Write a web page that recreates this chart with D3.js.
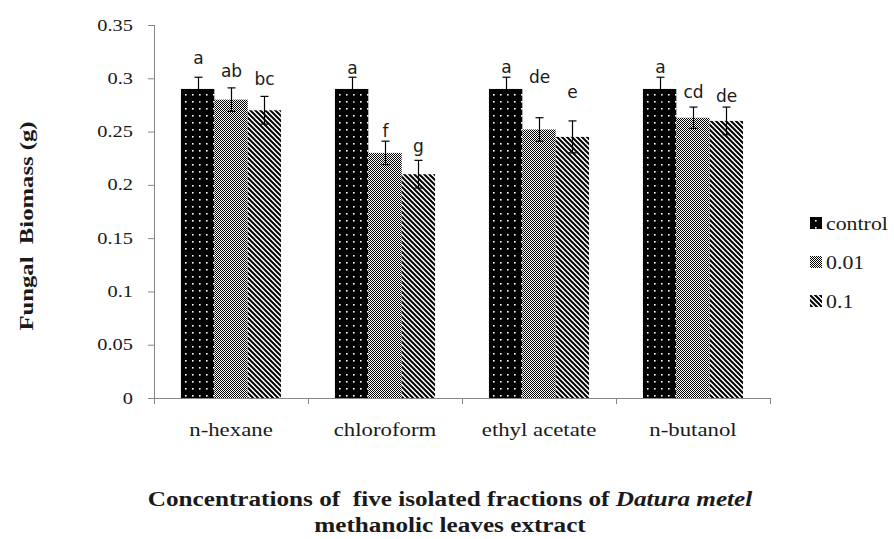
<!DOCTYPE html>
<html><head><meta charset="utf-8">
<script src="https://cdn.jsdelivr.net/npm/d3@7"></script>
<style>body{margin:0;background:#fff}svg{display:block}</style>
</head><body>
<svg id="chart" width="894" height="539"></svg>
<script>
// ---------- data ----------
const categories = ["n-hexane", "chloroform", "ethyl acetate", "n-butanol"];
const seriesNames = ["control", "0.01", "0.1"];
const controlValues = [0.29, 0.29, 0.29, 0.29];
const conc001Values = [0.28, 0.23, 0.252, 0.263];
const conc01Values  = [0.27, 0.21, 0.245, 0.26];
const controlErr = [0.011, 0.011, 0.011, 0.011];
const conc001Err = [0.011, 0.011, 0.011, 0.010];
const conc01Err  = [0.013, 0.013, 0.015, 0.013];
const controlLetters = ["a", "a", "a", "a"];
const conc001Letters = ["ab", "f", "de", "cd"];
const conc01Letters  = ["bc", "g", "e", "de"];
const controlLetterAt = [0.3134, 0.304, 0.3047, 0.3047];
const conc001LetterAt = [0.3015, 0.2446, 0.2953, 0.2812];
const conc01LetterAt  = [0.2937, 0.2311, 0.2812, 0.278];
const yTicks = [0, 0.05, 0.1, 0.15, 0.2, 0.25, 0.3, 0.35];
const yTickLabels = ["0", "0.05", "0.1", "0.15", "0.2", "0.25", "0.3", "0.35"];

const series = [
  {name: seriesNames[0], values: controlValues, err: controlErr, letters: controlLetters, at: controlLetterAt, fill: "url(#pDots)"},
  {name: seriesNames[1], values: conc001Values, err: conc001Err, letters: conc001Letters, at: conc001LetterAt, fill: "url(#pCheck)"},
  {name: seriesNames[2], values: conc01Values, err: conc01Err, letters: conc01Letters, at: conc01LetterAt, fill: "url(#pStripe)"}
];

// ---------- layout ----------
const svg = d3.select("#chart");
const pLeft = 154, pRight = 770, pTop = 25, pBottom = 398;
const axisColor = "#878787";
const serif = "'Liberation Serif','Times New Roman',serif";
const sx = 1.2;

const x0 = d3.scaleBand().domain(categories).range([pLeft, pRight]).paddingInner(0.35).paddingOuter(0.175);
const x1 = d3.scaleBand().domain(seriesNames).range([0, x0.bandwidth()]);
const y = d3.scaleLinear().domain([0, 0.35]).range([pBottom, pTop]);

// ---------- patterns ----------
const defs = svg.append("defs");
const pd = defs.append("pattern").attr("id", "pDots").attr("patternUnits", "userSpaceOnUse")
  .attr("width", 7).attr("height", 7);
pd.append("rect").attr("width", 7).attr("height", 7).attr("fill", "#000");
pd.append("rect").attr("x", 3).attr("y", 3).attr("width", 1.6).attr("height", 1.6).attr("fill", "#fff");

const pc = defs.append("pattern").attr("id", "pCheck").attr("patternUnits", "userSpaceOnUse")
  .attr("width", 2).attr("height", 2);
pc.append("rect").attr("width", 2).attr("height", 2).attr("fill", "#fff");
pc.append("rect").attr("width", 1).attr("height", 1).attr("fill", "#000");
pc.append("rect").attr("x", 1).attr("y", 1).attr("width", 1).attr("height", 1).attr("fill", "#000");

const ps = defs.append("pattern").attr("id", "pStripe").attr("patternUnits", "userSpaceOnUse")
  .attr("width", 5).attr("height", 5);
ps.append("rect").attr("width", 5).attr("height", 5).attr("fill", "#fff");
ps.append("path").attr("d", "M-1,-1L6,6M-1,4L1,6M4,-1L6,1")
  .attr("stroke", "#000").attr("stroke-width", 2);

// ---------- axes ----------
const yAxis = d3.axisLeft(y).tickValues(yTicks).tickSize(6).tickFormat(() => "");
const gy = svg.append("g").attr("transform", `translate(${pLeft},0)`).call(yAxis);
gy.select(".domain").attr("stroke", axisColor).attr("d", `M0.5,${pTop}V${pBottom}`);
gy.selectAll(".tick line").attr("stroke", axisColor);

yTicks.forEach((v, i) => {
  svg.append("text")
    .attr("transform", `translate(${pLeft - 21},${y(v) + 5.5}) scale(${sx},1)`)
    .attr("text-anchor", "end")
    .attr("font-family", serif).attr("font-size", 17).attr("fill", "#1a1a1a")
    .text(yTickLabels[i]);
});

const boundaries = [pLeft].concat(categories.slice(1).map(c => x0(c) - x0.step() * 0.175)).concat([pRight]);
svg.append("line").attr("x1", pLeft - 6).attr("x2", pRight).attr("y1", pBottom + 0.5).attr("y2", pBottom + 0.5)
  .attr("stroke", axisColor);
svg.selectAll(".xb").data(boundaries).enter().append("line")
  .attr("x1", d => Math.round(d) + 0.5).attr("x2", d => Math.round(d) + 0.5)
  .attr("y1", pBottom).attr("y2", pBottom + 6).attr("stroke", axisColor);

categories.forEach(c => {
  svg.append("text")
    .attr("transform", `translate(${x0(c) + x0.bandwidth() / 2},436) scale(${sx},1)`)
    .attr("text-anchor", "middle")
    .attr("font-family", serif).attr("font-size", 19).attr("fill", "#1a1a1a")
    .text(c);
});

// ---------- bars ----------
series.forEach(s => {
  const g = svg.append("g");
  categories.forEach((c, i) => {
    g.append("rect").attr("x", x0(c) + x1(s.name)).attr("y", y(s.values[i]))
      .attr("width", x1.bandwidth()).attr("height", pBottom - y(s.values[i])).attr("fill", s.fill);
  });
});
series.forEach(s => {
  categories.forEach((c, i) => {
    const cx = Math.round(x0(c) + x1(s.name) + x1.bandwidth() / 2) + 0.5;
    const hi = y(s.values[i] + s.err[i]), lo = y(s.values[i] - s.err[i]);
    svg.append("line").attr("x1", cx).attr("x2", cx).attr("y1", hi).attr("y2", lo)
      .attr("stroke", "#000").attr("stroke-width", 1.2);
    [hi, lo].forEach(yy => svg.append("line").attr("x1", cx - 4).attr("x2", cx + 4)
      .attr("y1", yy).attr("y2", yy).attr("stroke", "#000").attr("stroke-width", 1.2));
    svg.append("text").attr("x", cx).attr("y", y(s.at[i]))
      .attr("text-anchor", "middle").attr("font-family", "'DejaVu Sans',sans-serif")
      .attr("font-size", 17).attr("fill", "#1a1a1a").text(s.letters[i]);
  });
});

// ---------- legend ----------
const legendY = [223, 262, 301];
series.forEach((s, i) => {
  svg.append("rect").attr("x", 810).attr("y", legendY[i] - 6).attr("width", 12).attr("height", 12).attr("fill", s.fill);
  svg.append("text")
    .attr("transform", `translate(826,${legendY[i] + 6.5}) scale(1.15,1)`)
    .attr("font-family", serif).attr("font-size", 19).attr("fill", "#1a1a1a")
    .text(s.name);
});

// ---------- titles ----------
svg.append("text")
  .attr("transform", `translate(33,226) rotate(-90) scale(1.3,1)`)
  .attr("text-anchor", "middle").attr("font-family", serif).attr("font-weight", "bold")
  .attr("font-size", 19).attr("fill", "#1a1a1a").style("white-space", "pre")
  .text("Fungal  Biomass (g)");

const t1 = svg.append("text")
  .attr("transform", `translate(450,506) scale(${sx},1)`)
  .attr("text-anchor", "middle").attr("font-family", serif).attr("font-weight", "bold")
  .attr("font-size", 21).attr("fill", "#1a1a1a").style("white-space", "pre");
t1.append("tspan").text("Concentrations of  five isolated fractions of ");
t1.append("tspan").attr("font-style", "italic").text("Datura metel");
svg.append("text")
  .attr("transform", `translate(450,532) scale(${sx},1)`)
  .attr("text-anchor", "middle").attr("font-family", serif).attr("font-weight", "bold")
  .attr("font-size", 21).attr("fill", "#1a1a1a").style("white-space", "pre")
  .text("methanolic leaves extract");
</script>
</body></html>
